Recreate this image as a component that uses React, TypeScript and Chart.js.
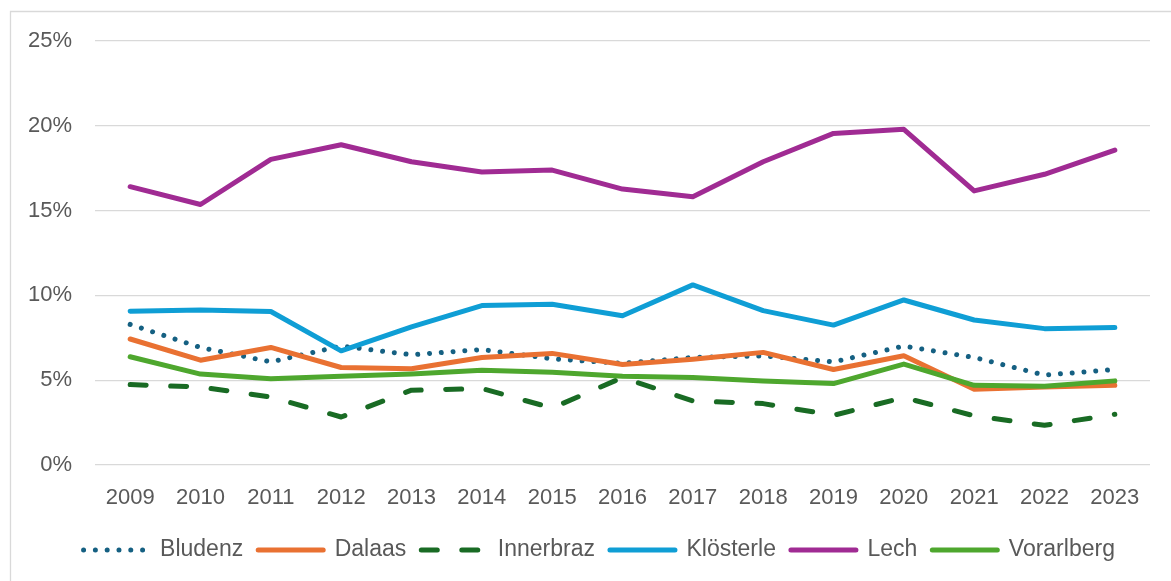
import React, { useEffect, useRef } from "react";
import { Chart, registerables } from "chart.js";

Chart.register(...registerables);

const years = ["2009", "2010", "2011", "2012", "2013", "2014", "2015", "2016", "2017", "2018", "2019", "2020", "2021", "2022", "2023"];
const bludenz = [8.29, 6.93, 6.08, 7.01, 6.5, 6.81, 6.26, 5.99, 6.34, 6.44, 6.08, 7.01, 6.34, 5.3, 5.63];
const dalaas = [7.43, 6.18, 6.93, 5.75, 5.68, 6.34, 6.58, 5.93, 6.24, 6.64, 5.63, 6.44, 4.47, 4.6, 4.7];
const innerbraz = [4.74, 4.6, 4.01, 2.83, 4.41, 4.51, 3.36, 5.16, 3.78, 3.62, 2.93, 3.98, 2.9, 2.34, 2.99];
const kloesterle = [9.07, 9.14, 9.05, 6.73, 8.15, 9.4, 9.48, 8.8, 10.62, 9.1, 8.25, 9.73, 8.55, 8.04, 8.1];
const lech = [16.41, 15.36, 18.02, 18.88, 17.88, 17.28, 17.39, 16.27, 15.82, 17.88, 19.55, 19.79, 16.16, 17.14, 18.57];
const vorarlberg = [6.38, 5.36, 5.08, 5.24, 5.37, 5.59, 5.47, 5.24, 5.16, 4.96, 4.8, 5.95, 4.7, 4.64, 4.96];
const yTicks = [0, 5, 10, 15, 20, 25];

const FONT = "'Liberation Sans', Arial, sans-serif";
const TEXT = "#595959";

export default function App() {
  const ref = useRef<HTMLCanvasElement>(null);

  useEffect(() => {
    if (!ref.current) return;
    const frame = {
      id: "frame",
      beforeDraw(chart: any) {
        const ctx = chart.ctx;
        ctx.save();
        ctx.strokeStyle = "#d9d9d9";
        ctx.lineWidth = 1.3;
        ctx.beginPath();
        ctx.moveTo(10.5, 581);
        ctx.lineTo(10.5, 11.5);
        ctx.lineTo(1171, 11.5);
        ctx.stroke();
        ctx.restore();
      },
      afterLayout(chart: any) {
        const lg = chart.legend;
        if (lg) lg.left = 48.5;
      },
    };
    const common = {
      fill: false,
      pointRadius: 0,
      pointHoverRadius: 0,
      borderWidth: 5,
      borderJoinStyle: "round" as const,
      borderCapStyle: "round" as const,
      tension: 0,
    };
    const chart = new Chart(ref.current, {
      type: "line",
      data: {
        labels: years,
        datasets: [
          { ...common, label: "Bludenz", data: bludenz, borderColor: "#156082", backgroundColor: "#156082", borderDash: [0.001, 11.8], order: 5 },
          { ...common, label: "Dalaas", data: dalaas, borderColor: "#E97132", backgroundColor: "#E97132", order: 4 },
          { ...common, label: "Innerbraz", data: innerbraz, borderColor: "#196B24", backgroundColor: "#196B24", borderDash: [16, 24.5], order: 3 },
          { ...common, label: "Klösterle", data: kloesterle, borderColor: "#0F9ED5", backgroundColor: "#0F9ED5", order: 2 },
          { ...common, label: "Lech", data: lech, borderColor: "#A02B93", backgroundColor: "#A02B93", order: 1 },
          { ...common, label: "Vorarlberg", data: vorarlberg, borderColor: "#4EA72E", backgroundColor: "#4EA72E", order: 0 },
        ],
      },
      options: {
        responsive: false,
        animation: false,
        events: [],
        layout: { padding: { left: 28, right: 21, top: 41, bottom: 9.5 } },
        scales: {
          x: {
            type: "category",
            offset: true,
            grid: { display: false, drawTicks: false },
            border: { display: false },
            ticks: { color: TEXT, font: { family: FONT, size: 22 }, padding: 20, maxRotation: 0, autoSkip: false },
            afterFit: (scale: any) => { scale.height = 58.5; },
          },
          y: {
            min: 0,
            max: 25,
            afterBuildTicks: (scale: any) => { scale.ticks = yTicks.map((v) => ({ value: v })); },
            grid: { color: "#d9d9d9", lineWidth: 1.3, drawTicks: false },
            border: { display: false },
            ticks: { color: TEXT, font: { family: FONT, size: 22 }, padding: 23, callback: (v: any) => v + "%" },
            afterFit: (scale: any) => { scale.width = 67; },
          },
        },
        plugins: {
          tooltip: { enabled: false },
          title: { display: false },
          legend: {
            position: "bottom",
            labels: {
              usePointStyle: true,
              pointStyle: "line",
              pointStyleWidth: 65,
              boxHeight: 23,
              padding: 15,
              color: TEXT,
              font: { family: FONT, size: 23 },
              generateLabels: (c: any) =>
                c.data.datasets.map((ds: any, i: number) => ({
                  text: ds.label,
                  fillStyle: ds.borderColor,
                  strokeStyle: ds.borderColor,
                  fontColor: TEXT,
                  lineWidth: 5,
                  lineDash: ds.borderDash || [],
                  lineDashOffset: 0,
                  lineCap: "round",
                  lineJoin: "round",
                  pointStyle: "line",
                  rotation: 0,
                  hidden: false,
                  datasetIndex: i,
                })),
            },
          },
        },
      },
      plugins: [frame],
    } as any);
    return () => chart.destroy();
  }, []);

  return (
    <div style={{ position: "fixed", left: 0, top: 0, width: 1171, height: 581, background: "#fff" }}>
      <canvas ref={ref} width={1171} height={581} style={{ display: "block" }} />
    </div>
  );
}
